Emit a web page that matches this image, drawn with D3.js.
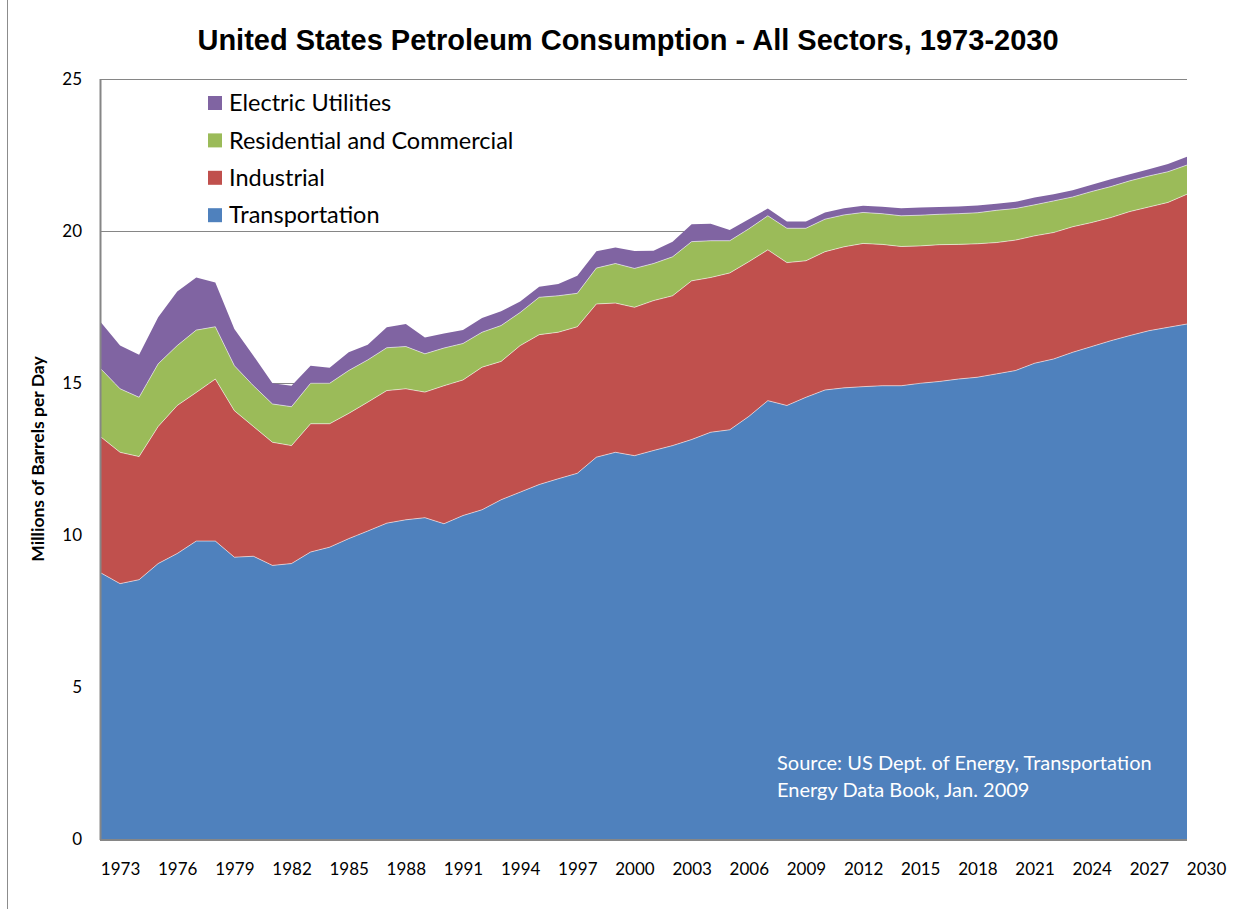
<!DOCTYPE html>
<html>
<head>
<meta charset="utf-8">
<script src="https://cdn.jsdelivr.net/npm/d3@7"></script>
<style>
body { margin: 0; background: #fff; }
text { font-family: Lato, "Open Sans", sans-serif; }
</style>
</head>
<body>
<svg id="chart" width="1248" height="909"></svg>
<script>
var years = [1973, 1974, 1975, 1976, 1977, 1978, 1979, 1980, 1981, 1982,
  1983, 1984, 1985, 1986, 1987, 1988, 1989, 1990, 1991, 1992,
  1993, 1994, 1995, 1996, 1997, 1998, 1999, 2000, 2001, 2002,
  2003, 2004, 2005, 2006, 2007, 2008, 2009, 2010, 2011, 2012,
  2013, 2014, 2015, 2016, 2017, 2018, 2019, 2020, 2021, 2022,
  2023, 2024, 2025, 2026, 2027, 2028, 2029, 2030];

// millions of barrels per day
var transportation = [8.75, 8.40, 8.53, 9.06, 9.39, 9.80, 9.80, 9.27, 9.30, 9.00,
  9.06, 9.44, 9.60, 9.88, 10.13, 10.39, 10.50, 10.57, 10.37, 10.64,
  10.83, 11.16, 11.41, 11.66, 11.85, 12.03, 12.56, 12.72, 12.61, 12.78,
  12.94, 13.14, 13.38, 13.46, 13.90, 14.42, 14.26, 14.53, 14.77, 14.84,
  14.88, 14.91, 14.91, 14.99, 15.05, 15.13, 15.19, 15.30, 15.41, 15.65,
  15.79, 16.01, 16.20, 16.39, 16.56, 16.72, 16.83, 16.94];
var industrial = [4.47, 4.32, 4.05, 4.51, 4.87, 4.89, 5.33, 4.82, 4.27, 4.05,
  3.88, 4.22, 4.06, 4.12, 4.24, 4.36, 4.31, 4.13, 4.54, 4.46,
  4.69, 4.55, 4.82, 4.93, 4.82, 4.82, 5.04, 4.91, 4.88, 4.93,
  4.93, 5.22, 5.09, 5.16, 5.09, 4.96, 4.70, 4.49, 4.55, 4.64,
  4.71, 4.65, 4.58, 4.52, 4.50, 4.43, 4.39, 4.32, 4.29, 4.19,
  4.16, 4.13, 4.08, 4.05, 4.08, 4.07, 4.11, 4.27];
var residential = [2.24, 2.09, 1.95, 2.06, 1.97, 2.05, 1.72, 1.48, 1.34, 1.26,
  1.28, 1.33, 1.33, 1.41, 1.39, 1.41, 1.39, 1.26, 1.24, 1.20,
  1.15, 1.18, 1.09, 1.23, 1.20, 1.10, 1.18, 1.30, 1.28, 1.22,
  1.28, 1.29, 1.21, 1.06, 1.08, 1.12, 1.13, 1.07, 1.07, 1.05,
  1.02, 1.01, 1.01, 1.01, 1.00, 1.01, 1.02, 1.06, 1.04, 1.02,
  1.04, 0.98, 1.02, 1.02, 1.01, 1.02, 1.01, 0.96];
var electric = [1.53, 1.42, 1.40, 1.53, 1.78, 1.73, 1.46, 1.21, 0.99, 0.68,
  0.69, 0.58, 0.51, 0.60, 0.50, 0.67, 0.74, 0.54, 0.48, 0.44,
  0.47, 0.47, 0.36, 0.35, 0.39, 0.58, 0.55, 0.53, 0.57, 0.42,
  0.50, 0.57, 0.56, 0.35, 0.32, 0.24, 0.22, 0.22, 0.22, 0.22,
  0.22, 0.23, 0.25, 0.25, 0.24, 0.24, 0.24, 0.22, 0.22, 0.24,
  0.22, 0.22, 0.22, 0.24, 0.22, 0.22, 0.25, 0.27];

var seriesNames = ["Transportation", "Industrial", "Residential and Commercial", "Electric Utilities"];
var seriesColors = ["#4f81bd", "#c0504d", "#9bbb59", "#8064a2"];
var yTicks = [0, 5, 10, 15, 20, 25];
var xTicks = [1973, 1976, 1979, 1982, 1985, 1988, 1991, 1994, 1997, 2000,
  2003, 2006, 2009, 2012, 2015, 2018, 2021, 2024, 2027, 2030];

var svg = d3.select("#chart");

var x = d3.scaleLinear().domain([1973, 2030]).range([101, 1187]);
var y = d3.scaleLinear().domain([0, 25]).range([839, 79]);

var rows = years.map(function(yr, i) {
  return {
    year: yr,
    "Transportation": transportation[i],
    "Industrial": industrial[i],
    "Residential and Commercial": residential[i],
    "Electric Utilities": electric[i]
  };
});
var layers = d3.stack().keys(seriesNames)(rows);

// chart frame, only its left edge shows
svg.append("line")
  .attr("x1", 7.5).attr("x2", 7.5)
  .attr("y1", 0).attr("y2", 909)
  .style("stroke", "#8c8c8c")
  .style("stroke-width", 1);

// title
svg.append("text")
  .attr("x", 628)
  .attr("y", 50)
  .attr("text-anchor", "middle")
  .style("font-family", "'Liberation Sans', Arial, sans-serif")
  .style("font-weight", "bold")
  .style("font-size", "29px")
  .text("United States Petroleum Consumption - All Sectors, 1973-2030");

// gridlines
svg.append("g")
  .selectAll("line")
  .data(yTicks.filter(function(d) { return d > 0; }))
  .join("line")
  .attr("x1", x(1973)).attr("x2", x(2030))
  .attr("y1", function(d) { return y(d) + 0.5; })
  .attr("y2", function(d) { return y(d) + 0.5; })
  .style("stroke", "#868686")
  .style("stroke-width", 1);

// stacked areas
var area = d3.area()
  .x(function(d) { return x(d.data.year); })
  .y0(function(d) { return y(d[0]); })
  .y1(function(d) { return y(d[1]); });

svg.append("g")
  .selectAll("path")
  .data(layers)
  .join("path")
  .attr("d", area)
  .style("fill", function(d, i) { return seriesColors[i]; });

// faint light seams between the layers
var seam = d3.line()
  .x(function(d) { return x(d.data.year); })
  .y(function(d) { return y(d[1]); });

svg.append("g")
  .selectAll("path")
  .data(layers.slice(0, 3))
  .join("path")
  .attr("d", seam)
  .style("fill", "none")
  .style("stroke", "#ffffff")
  .style("stroke-opacity", 0.55)
  .style("stroke-width", 1);

// axes
var yAxis = svg.append("g")
  .attr("transform", "translate(" + x(1973) + ",0)")
  .call(d3.axisLeft(y).tickValues(yTicks).tickSize(0).tickPadding(19));
yAxis.select(".domain").remove();
yAxis.selectAll("text")
  .style("font-family", "Lato, sans-serif")
  .style("font-size", "17px")
  .style("fill", "#000");

var step = x(1974) - x(1973);
var xLabel = d3.scaleLinear().domain([1973, 2030]).range([101 + step, 1187 + step]);
var xAxis = svg.append("g")
  .attr("transform", "translate(0," + y(0) + ")")
  .call(d3.axisBottom(xLabel).tickValues(xTicks).tickSize(0).tickFormat(d3.format("d")));
xAxis.select(".domain").remove();
xAxis.selectAll("text")
  .attr("y", 24)
  .style("font-family", "Lato, sans-serif")
  .style("font-size", "17px")
  .style("fill", "#000");

svg.append("line")
  .attr("x1", x(1973) - 0.5).attr("x2", x(1973) - 0.5)
  .attr("y1", y(25)).attr("y2", y(0) + 1)
  .style("stroke", "#868686")
  .style("stroke-width", 2);
svg.append("line")
  .attr("x1", x(1973) - 1).attr("x2", x(2030))
  .attr("y1", y(0) + 1).attr("y2", y(0) + 1)
  .style("stroke", "#868686")
  .style("stroke-width", 2);

// y axis title
svg.append("text")
  .attr("transform", "translate(44," + y(12.5) + ") rotate(-90)")
  .attr("text-anchor", "middle")
  .style("font-weight", "bold")
  .style("font-size", "17.5px")
  .text("Millions of Barrels per Day");

// legend, top entry is the top layer
var legend = svg.append("g")
  .selectAll("g")
  .data(seriesNames.slice().reverse())
  .join("g")
  .attr("transform", function(d, i) { return "translate(208," + (103 + i * 37.4) + ")"; });
legend.append("rect")
  .attr("x", 0).attr("y", -7)
  .attr("width", 14).attr("height", 14)
  .style("fill", function(d) { return seriesColors[seriesNames.indexOf(d)]; });
legend.append("text")
  .attr("x", 21)
  .attr("y", 0)
  .attr("dy", "0.35em")
  .style("font-size", "23.5px")
  .text(function(d) { return d; });

// source note inside the blue area
var note = svg.append("text")
  .attr("x", 777)
  .attr("y", 770)
  .style("font-size", "20px")
  .style("fill", "#ffffff");
note.append("tspan").attr("x", 777).text("Source: US Dept. of Energy, Transportation");
note.append("tspan").attr("x", 777).attr("dy", 27).text("Energy Data Book, Jan. 2009");
</script>
</body>
</html>
